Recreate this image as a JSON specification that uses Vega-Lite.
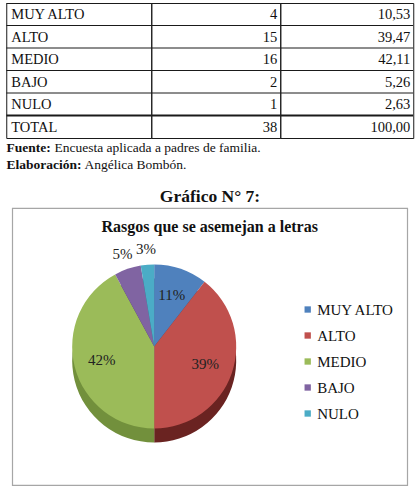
{
  "$schema": "https://vega.github.io/schema/vega-lite/v6.json",
  "padding": {"left": 5, "top": 2, "right": 6, "bottom": 4},
  "autosize": {"type": "pad"},
  "background": "white",
  "config": {
    "locale": {"number": {"decimal": ",", "thousands": ".", "grouping": [3], "currency": ["", " €"]}},
    "view": {"stroke": null},
    "font": "Liberation Serif",
    "text": {"font": "Liberation Serif"},
    "concat": {"spacing": 0}
  },
  "datasets": {
    "tabla": [
      {"nivel": "MUY ALTO", "f": 4, "pct": 10.53, "orden": 1},
      {"nivel": "ALTO", "f": 15, "pct": 39.47, "orden": 2},
      {"nivel": "MEDIO", "f": 16, "pct": 42.11, "orden": 3},
      {"nivel": "BAJO", "f": 2, "pct": 5.26, "orden": 4},
      {"nivel": "NULO", "f": 1, "pct": 2.63, "orden": 5},
      {"nivel": "TOTAL", "f": 38, "pct": 100.0, "orden": 6}
    ]
  },
  "spacing": 0,
  "center": true,
  "vconcat": [
    {
      "spacing": 0,
      "bounds": "flush",
      "hconcat": [
        {
          "width": 145, "height": 135,
          "view": {"stroke": "#1a1a1a", "strokeWidth": 1},
          "data": {"name": "tabla"},
          "encoding": {"y": {"field": "nivel", "type": "nominal", "sort": null, "axis": null, "scale": {"paddingInner": 0, "paddingOuter": 0}}},
          "layer": [
            {"mark": {"type": "rule", "color": "#1a1a1a", "clip": true},
             "encoding": {"y": {"field": "nivel", "type": "nominal", "sort": null, "bandPosition": 0},
                          "strokeWidth": {"condition": {"test": "datum.nivel === 'TOTAL' || datum.nivel === 'MUY ALTO'", "value": 2}, "value": 1}}},
            {"mark": {"type": "text", "align": "left", "dx": 5, "dy": 1, "fontSize": 14.5, "color": "#111"},
             "encoding": {"x": {"value": 0}, "text": {"field": "nivel"}}}
          ]
        },
        {
          "width": 129, "height": 135,
          "view": {"stroke": "#1a1a1a", "strokeWidth": 1},
          "data": {"name": "tabla"},
          "encoding": {"y": {"field": "nivel", "type": "nominal", "sort": null, "axis": null, "scale": {"paddingInner": 0, "paddingOuter": 0}}},
          "layer": [
            {"mark": {"type": "rule", "color": "#1a1a1a", "clip": true},
             "encoding": {"y": {"field": "nivel", "type": "nominal", "sort": null, "bandPosition": 0},
                          "strokeWidth": {"condition": {"test": "datum.nivel === 'TOTAL' || datum.nivel === 'MUY ALTO'", "value": 2}, "value": 1}}},
            {"mark": {"type": "text", "align": "right", "dx": -3, "dy": 1, "fontSize": 14.5, "color": "#111"},
             "encoding": {"x": {"value": "width"}, "text": {"field": "f", "type": "quantitative", "format": "d"}}}
          ]
        },
        {
          "width": 133, "height": 135,
          "view": {"stroke": "#1a1a1a", "strokeWidth": 1},
          "data": {"name": "tabla"},
          "encoding": {"y": {"field": "nivel", "type": "nominal", "sort": null, "axis": null, "scale": {"paddingInner": 0, "paddingOuter": 0}}},
          "layer": [
            {"mark": {"type": "rule", "color": "#1a1a1a", "clip": true},
             "encoding": {"y": {"field": "nivel", "type": "nominal", "sort": null, "bandPosition": 0},
                          "strokeWidth": {"condition": {"test": "datum.nivel === 'TOTAL' || datum.nivel === 'MUY ALTO'", "value": 2}, "value": 1}}},
            {"mark": {"type": "text", "align": "right", "dx": -3, "dy": 1, "fontSize": 14.5, "color": "#111"},
             "encoding": {"x": {"value": "width"}, "text": {"field": "pct", "type": "quantitative", "format": ".2f"}}}
          ]
        }
      ]
    },
    {
      "width": 407, "height": 68,
      "encoding": {"y": {"field": "linea", "type": "nominal", "axis": null, "scale": {"domain": ["l1", "l2", "l3", "l4"], "paddingInner": 0, "paddingOuter": 0}}},
      "layer": [
        {"data": {"values": [{"linea": "l1", "t": "Fuente:"}, {"linea": "l2", "t": "Elaboración:"}]},
         "mark": {"type": "text", "align": "left", "fontWeight": "bold", "fontSize": 13.5, "color": "#111"},
         "encoding": {"x": {"value": 0}, "text": {"field": "t"}}},
        {"data": {"values": [{"linea": "l1", "t": "Encuesta aplicada a padres de familia."}]},
         "mark": {"type": "text", "align": "left", "dx": 48, "fontSize": 13.5, "color": "#111"},
         "encoding": {"x": {"value": 0}, "text": {"field": "t"}}},
        {"data": {"values": [{"linea": "l2", "t": "Angélica Bombón."}]},
         "mark": {"type": "text", "align": "left", "dx": 78, "fontSize": 13.5, "color": "#111"},
         "encoding": {"x": {"value": 0}, "text": {"field": "t"}}},
        {"data": {"values": [{"linea": "l4", "t": "Gráfico N° 7:"}]},
         "mark": {"type": "text", "fontWeight": "bold", "fontSize": 17.5, "color": "#111", "dy": -2},
         "encoding": {"text": {"field": "t"}}}
      ]
    },
    {
      "width": 395, "height": 277,
      "view": {"stroke": "#a6a6a6", "strokeWidth": 1.2},
      "title": {"text": "Rasgos que se asemejan a letras", "font": "Liberation Serif", "fontSize": 16, "fontWeight": "bold", "color": "#111", "offset": -27, "anchor": "middle"},
      "data": {"name": "tabla"},
      "transform": [
        {"filter": "datum.nivel !== 'TOTAL'"},
        {"calculate": "datum.pct / 100", "as": "frac"}
      ],
      "encoding": {
        "theta": {"field": "f", "type": "quantitative", "stack": true},
        "order": {"field": "orden", "type": "quantitative"},
        "x": {"value": 142}
      },
      "layer": [
        {"mark": {"type": "arc", "outerRadius": 82, "yOffset": 14},
         "encoding": {"color": {"field": "nivel", "type": "nominal",
           "scale": {"domain": ["MUY ALTO", "ALTO", "MEDIO", "BAJO", "NULO"], "range": ["#2e4b73", "#6a2321", "#72903c", "#4a3a60", "#2b6577"]},
           "legend": null}}},
        {"mark": {"type": "arc", "outerRadius": 82},
         "encoding": {"color": {"field": "nivel", "type": "nominal",
           "scale": {"domain": ["MUY ALTO", "ALTO", "MEDIO", "BAJO", "NULO"], "range": ["#4f81bd", "#c0504d", "#9bbb59", "#8064a2", "#4bacc6"]},
           "legend": {"orient": "none", "legendX": 288, "legendY": 94, "title": null, "symbolType": "square", "symbolSize": 40, "symbolStrokeWidth": 0, "labelFont": "Liberation Serif", "labelFontSize": 15, "labelColor": "#111", "rowPadding": 10, "labelOffset": 2}}}},
        {"mark": {"type": "text", "radius": 54, "fontSize": 15, "color": "#222"},
         "encoding": {"text": {"field": "frac", "type": "quantitative", "format": ".0%"},
                      "opacity": {"condition": {"test": "datum.f > 2", "value": 1}, "value": 0}}},
        {"mark": {"type": "text", "radius": 98, "fontSize": 15, "color": "#222"},
         "encoding": {"text": {"field": "frac", "type": "quantitative", "format": ".0%"},
                      "opacity": {"condition": {"test": "datum.f <= 2", "value": 1}, "value": 0}}}
      ],
      "resolve": {"scale": {"color": "independent"}}
    }
  ]
}
